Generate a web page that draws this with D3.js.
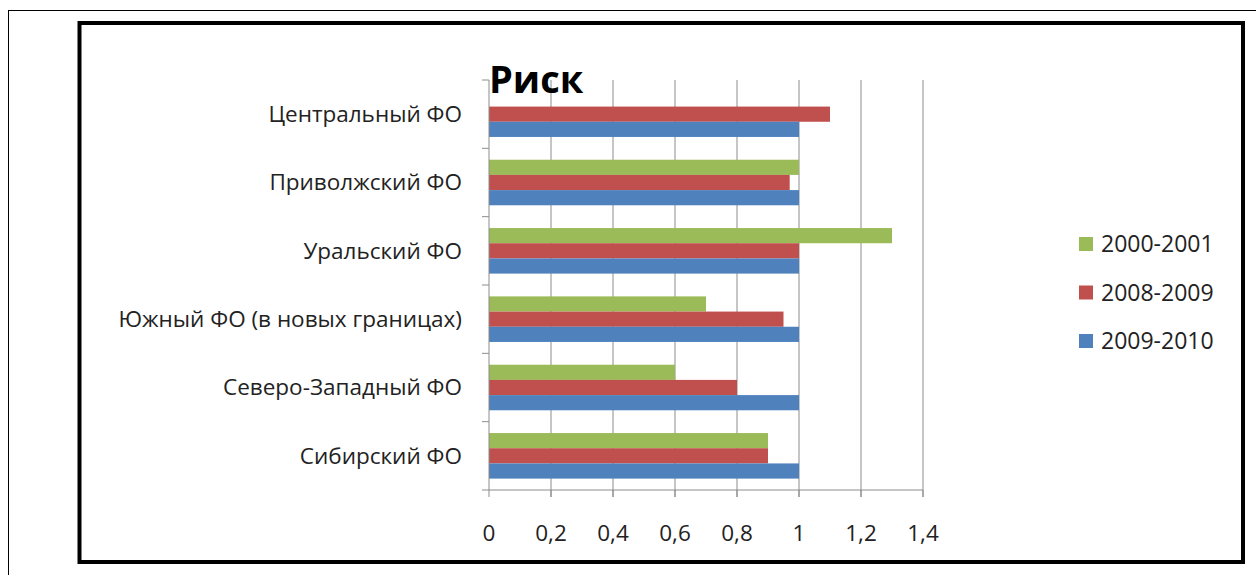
<!DOCTYPE html>
<html>
<head>
<meta charset="utf-8">
<script src="https://cdn.jsdelivr.net/npm/d3@7"></script>
<style>
  html, body { margin: 0; padding: 0; background: #fff; }
  svg { display: block; }
  text { font-family: "Open Sans", "Noto Sans", sans-serif; fill: #222; }
</style>
</head>
<body>
<svg id="chart" width="1256" height="575"></svg>
<script>
// Regions, top to bottom
const regions = [
  "Центральный ФО",
  "Приволжский ФО",
  "Уральский ФО",
  "Южный ФО (в новых границах)",
  "Северо-Западный ФО",
  "Сибирский ФО"
];
// Periods, drawn top to bottom within each region
const periods = ["2000-2001", "2008-2009", "2009-2010"];
const colors = ["#9BBB59", "#C0504D", "#4F81BD"];

// Risk values per period, in region order
const risk2000 = [0, 1.0, 1.3, 0.7, 0.6, 0.9];
const risk2008 = [1.1, 0.97, 1.0, 0.95, 0.8, 0.9];
const risk2009 = [1.0, 1.0, 1.0, 1.0, 1.0, 1.0];
const seriesValues = [risk2000, risk2008, risk2009];

const xTicks = [0, 0.2, 0.4, 0.6, 0.8, 1, 1.2, 1.4];
const xTickLabels = ["0", "0,2", "0,4", "0,6", "0,8", "1", "1,2", "1,4"];

const svg = d3.select("#chart");

// Outer thin frame and inner heavy frame
svg.append("rect").attr("x", 8.5).attr("y", 10.5).attr("width", 1300).attr("height", 600)
  .attr("fill", "none").attr("stroke", "#000").attr("stroke-width", 1);
svg.append("rect").attr("x", 79.5).attr("y", 23).attr("width", 1163.5).attr("height", 539)
  .attr("fill", "#fff").attr("stroke", "#000").attr("stroke-width", 4);

const plot = { left: 489, right: 923, top: 80, bottom: 490 };

const x = d3.scaleLinear().domain([0, 1.4]).range([plot.left, plot.right]);
// Excel-style 150% gap: bars occupy 45 of each ~68px band
const yBand = d3.scaleBand().domain(regions).range([plot.top, plot.bottom]);
const groupH = yBand.bandwidth() * 3 / 4.5;
const yInner = d3.scaleBand().domain(periods).range([0, groupH]);

// Vertical gridlines
svg.append("g").selectAll("line").data(xTicks.slice(1)).join("line")
  .attr("x1", d => x(d)).attr("x2", d => x(d))
  .attr("y1", plot.top).attr("y2", plot.bottom + 7)
  .attr("stroke", "#8c8c8c").attr("stroke-width", 1);

// Bars
const groups = svg.append("g").selectAll("g").data(regions).join("g")
  .attr("transform", (r) => `translate(0,${yBand(r) + (yBand.bandwidth() - groupH) / 2})`);
groups.selectAll("rect").data((r, i) => periods.map((p, j) => ({ p, v: seriesValues[j][i], c: colors[j] })))
  .join("rect")
  .attr("x", x(0))
  .attr("y", d => yInner(d.p))
  .attr("width", d => x(d.v) - x(0))
  .attr("height", yInner.bandwidth())
  .attr("fill", d => d.c);

// Category axis with ticks between bands
const yAxisG = svg.append("g");
yAxisG.append("line").attr("x1", plot.left).attr("x2", plot.left)
  .attr("y1", plot.top).attr("y2", plot.bottom).attr("stroke", "#8c8c8c");
const bounds = regions.map(r => yBand(r)).concat([plot.bottom]);
yAxisG.selectAll("line.tick").data(bounds).join("line").attr("class", "tick")
  .attr("x1", plot.left - 7).attr("x2", plot.left)
  .attr("y1", d => d).attr("y2", d => d).attr("stroke", "#8c8c8c");
yAxisG.selectAll("text").data(regions).join("text")
  .attr("x", plot.left - 27)
  .attr("y", r => yBand(r) + yBand.bandwidth() / 2)
  .attr("dy", "0.35em")
  .attr("text-anchor", "end")
  .attr("font-size", 22.5)
  .text(r => r);

// Value axis
const xAxisG = svg.append("g");
xAxisG.append("line").attr("x1", plot.left).attr("x2", plot.right)
  .attr("y1", plot.bottom).attr("y2", plot.bottom).attr("stroke", "#8c8c8c");
xAxisG.selectAll("line.tick").data(xTicks).join("line").attr("class", "tick")
  .attr("x1", d => x(d)).attr("x2", d => x(d))
  .attr("y1", plot.bottom).attr("y2", plot.bottom + 7).attr("stroke", "#8c8c8c");
xAxisG.selectAll("text").data(xTicks).join("text")
  .attr("x", d => x(d)).attr("y", 541)
  .attr("text-anchor", "middle")
  .attr("font-size", 22.5)
  .text((d, i) => xTickLabels[i]);

// Title
svg.append("text").attr("x", 489).attr("y", 93)
  .attr("font-size", 38).attr("font-weight", "bold")
  .style("fill", "#000")
  .text("Риск");

// Legend
const legend = svg.append("g").selectAll("g").data(periods).join("g")
  .attr("transform", (d, i) => `translate(1079,${244 + i * 48.5})`);
legend.append("rect").attr("x", 0).attr("y", -7).attr("width", 14).attr("height", 14)
  .attr("fill", (d, i) => colors[i]);
legend.append("text").attr("x", 22).attr("y", 0).attr("dy", "0.35em")
  .attr("font-size", 23).text(d => d);
</script>
</body>
</html>
